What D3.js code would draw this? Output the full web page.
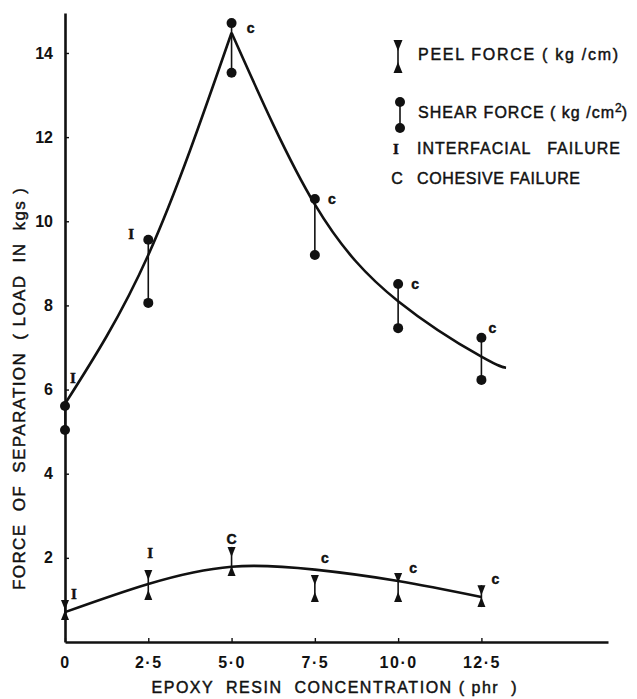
<!DOCTYPE html>
<html>
<head>
<meta charset="utf-8">
<script src="https://cdn.jsdelivr.net/npm/d3@7"></script>
<style>
  body { margin: 0; background: #fff; }
  svg text { font-family: "Liberation Sans", Arial, sans-serif; fill: #111; stroke: #111; stroke-width: 0.45; }
  .eje path, .eje line { stroke: #111; }
  .eje path { stroke-width: 2.6; }
  .eje line { stroke-width: 1.4; }
  .eje text { font-size: 16px; font-weight: bold; stroke: none; }
</style>
</head>
<body>
<svg id="chart" width="637" height="699"></svg>
<script>
// valores
const concentracion = [0, 2.5, 5.0, 7.5, 10.0, 12.5];
const cizallaAlta = [5.61, 9.56, 14.71, 10.53, 8.51, 7.23];
const cizallaBaja = [5.04, 8.06, 13.53, 9.20, 7.46, 6.23];
const peladoAlto = [1.00, 1.71, 2.26, 1.59, 1.64, 1.35];
const peladoBajo = [0.52, 1.00, 1.57, 0.95, 0.95, 0.83];
const fallaCizalla = ["I", "I", "c", "c", "c", "c"];
const fallaPelado = ["I", "I", "C", "c", "c", "c"];

// curvas ajustadas (trazo a mano en el original)
const curvaSubida = [[0, 5.66], [2.5, 9.2], [5, 14.48]];
const curvaBajada = [[5, 14.48], [7.5, 10.4], [10, 8.1], [12.5, 6.78], [13.24, 6.52]];
const curvaPelado = [[0, 0.71], [2.5, 1.38], [5, 1.79], [7.5, 1.72], [10, 1.45], [12.5, 1.07]];

const ticksX = [0, 2.5, 5, 7.5, 10, 12.5];
const etiquetasX = ["0", "2·5", "5·0", "7·5", "10·0", "12·5"];
const ticksY = [2, 4, 6, 8, 10, 12, 14];

const leyenda = [
  "PEEL FORCE ( kg /cm)",
  "SHEAR FORCE ( kg /cm",
  "INTERFACIAL   FAILURE",
  "COHESIVE FAILURE"
];

// desplazamiento de las letras de falla respecto al extremo superior (layout)
const ajusteCizalla = [[8, -28], [-17, -6], [19, 5], [17, 0], [17, 0], [11, -10]];
const ajustePelado = [[9, -6], [2, -17], [0, -8], [10, -17], [15, -5], [14, -6]];

const svg = d3.select("#chart");

const x = d3.scaleLinear().domain([0, 16.3]).range([65, 608]);
const y = d3.scaleLinear().domain([0, 14.95]).range([642, 13]);

svg.append("rect").attr("width", 637).attr("height", 699).attr("fill", "#fff");

// ejes
svg.append("g")
  .attr("class", "eje")
  .attr("transform", `translate(0,${y(0)})`)
  .call(d3.axisBottom(x)
    .tickValues(ticksX)
    .tickFormat((d, i) => etiquetasX[i])
    .tickSizeInner(-4)
    .tickSizeOuter(0)
    .tickPadding(15))
  .selectAll("text")
  .attr("letter-spacing", 1.5);

svg.append("g")
  .attr("class", "eje")
  .attr("transform", `translate(${x(0)},0)`)
  .call(d3.axisLeft(y)
    .tickValues(ticksY)
    .tickFormat(d3.format("d"))
    .tickSizeInner(-4)
    .tickSizeOuter(0)
    .tickPadding(12));

// titulos
svg.append("text")
  .attr("transform", "translate(25,389) rotate(-90)")
  .attr("text-anchor", "middle")
  .attr("font-size", 17)
  .attr("textLength", 402)
  .attr("lengthAdjust", "spacing")
  .style("white-space", "pre")
  .text("FORCE  OF  SEPARATION  ( LOAD  IN  kgs )");

svg.append("text")
  .attr("x", 334)
  .attr("y", 693)
  .attr("text-anchor", "middle")
  .attr("font-size", 16)
  .attr("textLength", 365)
  .attr("lengthAdjust", "spacing")
  .style("white-space", "pre")
  .text("EPOXY  RESIN  CONCENTRATION ( phr  )");

// curvas
const linea = d3.line()
  .x(d => x(d[0]))
  .y(d => y(d[1]))
  .curve(d3.curveNatural);

[curvaSubida, curvaBajada, curvaPelado].forEach(c => {
  svg.append("path")
    .attr("d", linea(c))
    .attr("fill", "none")
    .attr("stroke", "#111")
    .attr("stroke-width", 2.6);
});

// marcadores
function trianguloAbajo(cx, cy, w, h) {
  return `M${cx - w / 2},${cy}L${cx + w / 2},${cy}L${cx},${cy + h}Z`;
}

function trianguloArriba(cx, cy, w, h) {
  return `M${cx - w / 2},${cy}L${cx + w / 2},${cy}L${cx},${cy - h}Z`;
}

function dibujarPelado(g, cx, yArriba, yAbajo, w, hMax) {
  const h = Math.min(hMax, (yAbajo - yArriba) / 2 + 1);
  g.append("line")
    .attr("x1", cx).attr("x2", cx)
    .attr("y1", yArriba).attr("y2", yAbajo)
    .attr("stroke", "#111").attr("stroke-width", 1.6);
  g.append("path").attr("d", trianguloAbajo(cx, yArriba, w, h)).attr("fill", "#111");
  g.append("path").attr("d", trianguloArriba(cx, yAbajo, w, h)).attr("fill", "#111");
}

function dibujarCizalla(g, cx, yArriba, yAbajo, r) {
  g.append("line")
    .attr("x1", cx).attr("x2", cx)
    .attr("y1", yArriba).attr("y2", yAbajo)
    .attr("stroke", "#111").attr("stroke-width", 1.6);
  g.append("circle").attr("cx", cx).attr("cy", yArriba).attr("r", r).attr("fill", "#111");
  g.append("circle").attr("cx", cx).attr("cy", yAbajo).attr("r", r).attr("fill", "#111");
}

const marcas = svg.append("g");

concentracion.forEach((c, i) => {
  dibujarCizalla(marcas, x(c), y(cizallaAlta[i]), y(cizallaBaja[i]), 5);
  dibujarPelado(marcas, x(c), y(peladoAlto[i]), y(peladoBajo[i]), 8, 10);
});

function etiquetaFalla(g, letra, px, py) {
  const esI = letra === "I";
  g.append("text")
    .attr("x", px)
    .attr("y", py)
    .attr("text-anchor", "middle")
    .attr("dominant-baseline", "central")
    .attr("font-size", esI ? 15 : 14)
    .attr("font-weight", "bold")
    .style("font-family", esI ? "'Liberation Serif', serif" : "'Liberation Sans', sans-serif")
    .text(letra);
}

concentracion.forEach((c, i) => {
  etiquetaFalla(marcas, fallaCizalla[i], x(c) + ajusteCizalla[i][0], y(cizallaAlta[i]) + ajusteCizalla[i][1]);
  etiquetaFalla(marcas, fallaPelado[i], x(c) + ajustePelado[i][0], y(peladoAlto[i]) + ajustePelado[i][1]);
});

// leyenda
const ley = svg.append("g");

dibujarPelado(ley, 398, 40, 73, 9, 11);
ley.append("text")
  .attr("x", 418).attr("y", 60)
  .attr("font-size", 16)
  .attr("textLength", 200)
  .attr("lengthAdjust", "spacing")
  .style("white-space", "pre")
  .text(leyenda[0]);

dibujarCizalla(ley, 400, 102, 128, 5);
const t2 = ley.append("text")
  .attr("x", 418).attr("y", 118)
  .attr("font-size", 16)
  .style("white-space", "pre");
t2.append("tspan").attr("textLength", 196).attr("lengthAdjust", "spacing").text(leyenda[1]);
t2.append("tspan").attr("dy", -6).attr("font-size", 12).text("2");
t2.append("tspan").attr("dy", 6).text(")");

ley.append("text")
  .attr("x", 396).attr("y", 154)
  .attr("text-anchor", "middle")
  .attr("font-size", 15)
  .attr("font-weight", "bold")
  .style("font-family", "'Liberation Serif', serif")
  .text("I");
ley.append("text")
  .attr("x", 417).attr("y", 154)
  .attr("font-size", 16)
  .attr("textLength", 203)
  .attr("lengthAdjust", "spacing")
  .style("white-space", "pre")
  .text(leyenda[2]);

ley.append("text")
  .attr("x", 397).attr("y", 184)
  .attr("text-anchor", "middle")
  .attr("font-size", 16)
  .text("C");
ley.append("text")
  .attr("x", 417).attr("y", 184)
  .attr("font-size", 16)
  .attr("textLength", 163)
  .attr("lengthAdjust", "spacing")
  .style("white-space", "pre")
  .text(leyenda[3]);
</script>
</body>
</html>
